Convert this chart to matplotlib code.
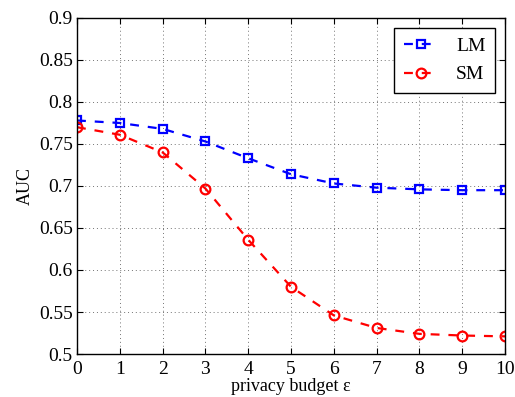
import matplotlib
matplotlib.use("Agg")
import matplotlib.pyplot as plt

budget = [0, 1, 2, 3, 4, 5, 6, 7, 8, 9, 10]
auc_lm = [0.778, 0.775, 0.768, 0.753, 0.733, 0.714, 0.703, 0.698, 0.696, 0.695, 0.695]
auc_sm = [0.770, 0.761, 0.740, 0.697, 0.636, 0.580, 0.546, 0.531, 0.524, 0.522, 0.521]
yticks = [0.5, 0.55, 0.6, 0.65, 0.7, 0.75, 0.8, 0.85, 0.9]
ytick_labels = ['0.5', '0.55', '0.6', '0.65', '0.7', '0.75', '0.8', '0.85', '0.9']

plt.rcParams['font.family'] = ['Liberation Serif', 'DejaVu Serif']

fig = plt.figure(figsize=(5.15, 3.97), dpi=100)
ax = fig.add_axes([0.1495, 0.1083, 0.8311, 0.8464])

ax.plot(budget, auc_lm, color='blue', linestyle=(0, (4, 4)), linewidth=1.6,
        marker='s', markersize=6, markerfacecolor='none', markeredgewidth=1.6,
        label='LM')
ax.plot(budget, auc_sm, color='red', linestyle=(0, (4, 4)), linewidth=1.6,
        marker='o', markersize=7, markerfacecolor='none', markeredgewidth=1.6,
        label='SM')

ax.set_xlim(0, 10)
ax.set_ylim(0.5, 0.9)
ax.set_xticks(budget)
ax.set_yticks(yticks)
ax.set_yticklabels(ytick_labels)
ax.tick_params(direction='in', top=True, right=True, labelsize=14, length=4)
ax.tick_params(axis='x', pad=5)
ax.tick_params(axis='y', pad=3)
ax.grid(True, linestyle=(0, (1, 3)), color='0.45', linewidth=0.7)
for sp in ax.spines.values():
    sp.set_linewidth(1.0)

ax.set_xlabel('privacy budget ε', fontsize=13, labelpad=0)
ax.set_ylabel('AUC', fontsize=13, labelpad=4)

leg = ax.legend(loc='upper right', fontsize=14, frameon=True, fancybox=False,
                edgecolor='black', framealpha=1, handlelength=1.8,
                borderaxespad=0.5, labelspacing=0.55, handletextpad=0.9,
                borderpad=0.5)
leg.get_frame().set_linewidth(1.0)

fig.savefig('out.png', dpi=100)
